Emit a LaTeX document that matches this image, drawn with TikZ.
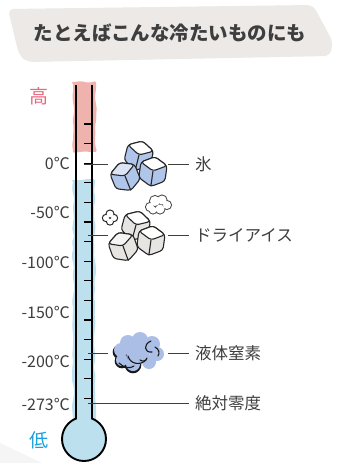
\documentclass[tikz,border=0pt]{standalone}
\usepackage{fontspec}
\newfontfamily\jp{Noto Sans CJK JP}
\usetikzlibrary{decorations.pathmorphing}

\definecolor{banner}{HTML}{ECE9E6}
\definecolor{ink}{HTML}{3E3E3E}
\definecolor{hotpink}{HTML}{F0B2AC}
\definecolor{coldblue}{HTML}{BCE0EE}
\definecolor{iceblue}{HTML}{AFC6EA}
\definecolor{dryfill}{HTML}{E7E5E2}
\definecolor{nitro}{HTML}{AABEE6}
\definecolor{highred}{HTML}{E8687E}
\definecolor{lowblue}{HTML}{1AA0DC}

\tikzset{
  tube/.style={line width=1.9pt, black},
  tick/.style={line width=1.2pt, black},
  conn/.style={line width=0.9pt, ink},
  cubeline/.style={line width=1.1pt, black!85, rounded corners=3pt, line join=round},
  temp/.style={anchor=east, inner sep=0pt, text=ink, font=\jp\fontsize{16}{16}\selectfont},
  thing/.style={anchor=west, inner sep=0pt, text=ink, font=\jp\fontsize{16.5}{17}\selectfont},
  blob/.style={decorate, decoration={random steps, segment length=6pt, amplitude=1.2pt}, rounded corners=2pt},
}

% one hand drawn cube: centre, angle, side colour, top colour
\newcommand\sketchcube[4]{%
  \begin{scope}[shift={#1}, rotate=#2, scale=1.2]
    \draw[cubeline, fill=#3] (0,-12) -- (11,-6) -- (11,7) -- (0,13) -- (-11,7) -- (-11,-6) -- cycle;
    \draw[cubeline, fill=#4] (0,-12) -- (11,-6) -- (0,0) -- (-11,-6) -- cycle;
    \draw[cubeline] (0,0) -- (0,13);
  \end{scope}}

\begin{document}
\begin{tikzpicture}[x=1pt, y=-1pt]
  \pgfmathsetseed{7}
  \useasboundingbox (0,0) rectangle (337,463);
  \fill[white] (0,0) rectangle (337,463);
  \fill[black!4] (0,443) -- (42,463) -- (0,463) -- cycle;

  % Title
  \fill[banner, rounded corners=6pt] (8,9) -- (313,5) -- (333,42) -- (330,56) -- (27,62) -- (19,55) -- cycle;
  \node[text=ink, font=\jp\bfseries\fontsize{19.5}{20}\selectfont] (title) at (170,33) {たとえばこんな冷たいものにも};

  % Thermometer fill
  \fill[hotpink, blob] (73,82) rectangle (96,152);
  \fill[coldblue, blob] (73,180) rectangle (95,420);
  \draw[tube, fill=coldblue] (84,439) circle[radius=22];
  \fill[coldblue] (77.2,410) rectangle (90.8,423);

  % Scale
  \foreach \k in {0,...,14}
    \draw[tick] (84,{124+19.6*\k}) -- (92,{124+19.6*\k});
  \draw[tube] (76,85) -- (76,418.6);
  \draw[tube] (92,85) -- (92,418.6);

  \node[text=highred, font=\jp\fontsize{19}{19}\selectfont] (high) at (39,96) {高};
  \node[text=lowblue, font=\jp\fontsize{19}{19}\selectfont] (low) at (39,440) {低};

  \node[temp] (t0) at (70,163) {0℃};
  \node[temp] (t50) at (70,212) {-50℃};
  \node[temp] (t100) at (70,262) {-100℃};
  \node[temp] (t150) at (70,312) {-150℃};
  \node[temp] (t200) at (70,361) {-200℃};
  \node[temp] (t273) at (70,404) {-273℃};

  % Connector end points
  \coordinate (ice in) at (84,164);
  \coordinate (ice a) at (108,164);
  \coordinate (ice b) at (168,164);
  \coordinate (dry in) at (88,235);
  \coordinate (dry a) at (108,235);
  \coordinate (dry b) at (168,235);
  \coordinate (nit in) at (88,353);
  \coordinate (nit a) at (108,353);
  \coordinate (nit b) at (168,353);
  \coordinate (zero in) at (88,403);

  \node[thing] (ice) at (195,164) {氷};
  \node[thing] (dry) at (195,235) {ドライアイス};
  \node[thing] (nit) at (195,353) {液体窒素};
  \node[thing] (zero) at (195,403) {絶対零度};

  \draw[conn] (ice in) -- (ice a);
  \draw[conn] (ice b) -- ([xshift=-6pt]ice.west);
  \draw[conn] (dry in) -- (dry a);
  \draw[conn] (dry b) -- ([xshift=-6pt]dry.west);
  \draw[conn] (nit in) -- (nit a);
  \draw[conn] (nit b) -- ([xshift=-6pt]nit.west);
  \draw[conn] (zero in) -- ([xshift=-6pt]zero.west);

  % Ice
  \sketchcube{(139,155)}{-14}{iceblue}{white}
  \sketchcube{(153,171)}{-8}{iceblue}{white}
  \sketchcube{(125,176)}{22}{iceblue}{iceblue!45}

  % Dry ice and its vapour
  \sketchcube{(136,225)}{-15}{dryfill}{white}
  \sketchcube{(151,240)}{-8}{dryfill}{white}
  \sketchcube{(123,246)}{20}{dryfill}{dryfill!40}
  \foreach \p/\r in {{(106,218)}/3,{(110,214)}/3.4,{(114,218)}/3,{(110,221.5)}/3}
    \draw[line width=2.2pt, black!85] \p circle[radius=\r];
  \foreach \p/\r in {{(106,218)}/3,{(110,214)}/3.4,{(114,218)}/3,{(110,221.5)}/3}
    \fill[white] \p circle[radius=\r];
  \foreach \p/\r in {{(150,207)}/4,{(155,201)}/5,{(162,200)}/4.5,{(167,205)}/4,{(160,209)}/4.5,{(153,210)}/3.5}
    \draw[line width=2pt, black!70] \p circle[radius=\r];
  \foreach \p/\r in {{(150,207)}/4,{(155,201)}/5,{(162,200)}/4.5,{(167,205)}/4,{(160,209)}/4.5,{(153,210)}/3.5}
    \fill[white] \p circle[radius=\r];

  % Liquid nitrogen
  \foreach \p/\r in {{(120,352)}/6,{(122,361)}/6,{(133,365)}/7}
    \draw[line width=2.6pt, black!90] \p circle[radius=\r];
  \foreach \p/\r in {{(121,350)}/7,{(128,343)}/8,{(140,340)}/8,{(152,344)}/8,{(157,354)}/7,{(149,362)}/7,{(133,364)}/7,{(122,360)}/6,{(138,352)}/12}
    \fill[nitro] \p circle[radius=\r];
  \draw[line width=1.1pt, black!90, line cap=round] (151,341) .. controls (143,344) and (144,353) .. (152,352);
  \draw[line width=1.1pt, black!90, line cap=round] (155,347) .. controls (159,349) and (160,353) .. (158,356);
  \draw[line width=1.1pt, black!90, line cap=round] (128,356) .. controls (130,364) and (140,366) .. (146,360);
  \draw[line width=1.1pt, black!90, line cap=round] (140,360) .. controls (143,362) and (146,361) .. (147,358);
  \draw[line width=1.1pt, black!90, line cap=round] (119,363) .. controls (124,368) and (130,369) .. (134,366);
\end{tikzpicture}
\end{document}
